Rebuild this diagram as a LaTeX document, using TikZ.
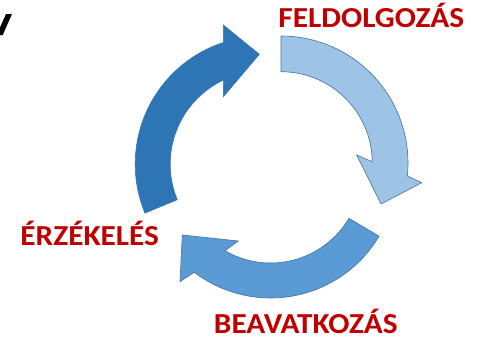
\documentclass[tikz,border=0pt]{standalone}
\usepackage{fontspec}
\setmainfont{Carlito}
\usetikzlibrary{calc}
\begin{document}
\begin{tikzpicture}[x=1pt,y=1pt,
  arrowdark/.style={fill=blue1, draw=blue1, line width=0.6pt, line join=miter},
  arrowlight/.style={fill=blue3, draw=edgeblue, line width=0.6pt, line join=miter},
  arrowmid/.style={fill=blue2, draw=edgeblue, line width=0.6pt, line join=miter},
  steplabel/.style={anchor=base, inner sep=0pt, text depth=0pt, xscale=1.08,
    text=labelred, font=\bfseries\fontsize{29}{31}\selectfont}]
\definecolor{blue1}{HTML}{2E75B6}
\definecolor{blue2}{HTML}{5B9BD5}
\definecolor{blue3}{HTML}{9DC3E6}
\definecolor{edgeblue}{HTML}{41719C}
\definecolor{labelred}{HTML}{C00000}
\useasboundingbox (0,0) rectangle (479,-338);

% centres of the three curved arrows
\coordinate (cb) at (263.2,-164.1);
\coordinate (cl) at (281,-163);
\coordinate (cm) at (270.6,-172);

% head corners
\coordinate (bOut) at (223.3,-25);
\coordinate (bTip) at (259.3,-54.3);
\coordinate (bIn) at (223.3,-96.7);
\coordinate (lOut) at (421.7,-182.7);
\coordinate (lTip) at (381,-204);
\coordinate (lIn) at (356.7,-155);
\coordinate (mOut) at (180,-281.7);
\coordinate (mTip) at (182.3,-235);
\coordinate (mIn) at (238.3,-241);

% left arrow (sensing -> processing)
\path[arrowdark] ($(cb)+(202.5:93)$) -- ($(cb)+(202.5:128)$)
  arc[start angle=202.5, end angle=108.1, radius=128]
  -- (bOut) -- (bTip) -- (bIn) -- ($(cb)+(115.4:93)$)
  arc[start angle=115.4, end angle=202.5, radius=93] -- cycle;

% upper right arrow (processing -> action)
\path[arrowlight] ($(cl)+(90:91.3)$) -- ($(cl)+(90:127)$)
  arc[start angle=90, end angle=-5.9, radius=127]
  -- (lOut) -- (lTip) -- (lIn) -- ($(cl)+(0.8:91.3)$)
  arc[start angle=0.8, end angle=90, radius=91.3] -- cycle;

% lower arrow (action -> sensing)
\path[arrowmid] ($(cm)+(-30.6:91)$) -- ($(cm)+(-30.6:126)$)
  arc[start angle=-30.6, end angle=-127.3, radius=126]
  -- (mOut) -- (mTip) -- (mIn) -- ($(cm)+(-120.1:91)$)
  arc[start angle=-120.1, end angle=-30.6, radius=91] -- cycle;

% labels
\node[steplabel] (feld) at (371.3,-27.7) {FELDOLGOZÁS};
\node[steplabel] (erz) at (89.7,-245) {ÉRZÉKELÉS};
\node[steplabel] (beav) at (305.8,-333.3) {BEAVATKOZÁS};

% stroke of a letter cut by the left edge
\fill[black] (6,-14) -- (12,-14) -- (2.7,-35) -- (0,-35) -- (0,-27.5) -- cycle;
\end{tikzpicture}
\end{document}
